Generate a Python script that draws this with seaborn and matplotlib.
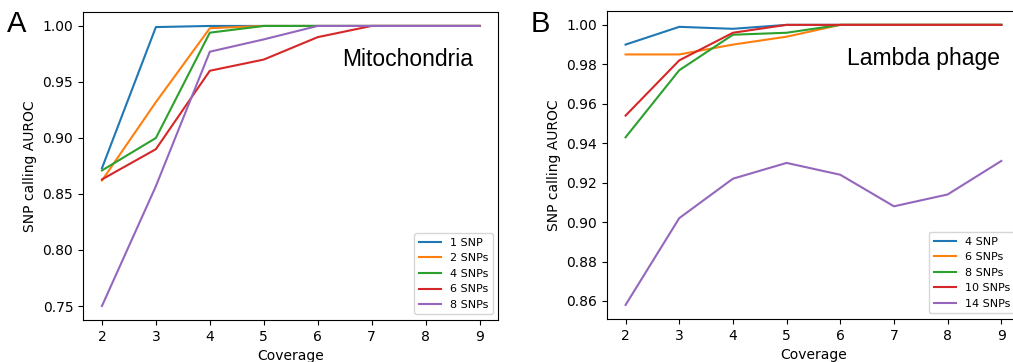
import pandas as pd
import matplotlib
matplotlib.use("Agg")
import matplotlib.pyplot as plt
import seaborn as sns

coverage = [2, 3, 4, 5, 6, 7, 8, 9]

# Panel A: mitochondria
mito_labels = ["1 SNP", "2 SNPs", "4 SNPs", "6 SNPs", "8 SNPs"]
mito_1 = [0.873, 0.999, 1.000, 1.000, 1.000, 1.000, 1.000, 1.000]
mito_2 = [0.862, 0.932, 0.998, 1.000, 1.000, 1.000, 1.000, 1.000]
mito_4 = [0.871, 0.900, 0.994, 1.000, 1.000, 1.000, 1.000, 1.000]
mito_6 = [0.863, 0.890, 0.960, 0.970, 0.990, 1.000, 1.000, 1.000]
mito_8 = [0.750, 0.857, 0.977, 0.988, 1.000, 1.000, 1.000, 1.000]

# Panel B: lambda phage
lam_labels = ["4 SNP", "6 SNPs", "8 SNPs", "10 SNPs", "14 SNPs"]
lam_4 = [0.990, 0.999, 0.998, 1.000, 1.000, 1.000, 1.000, 1.000]
lam_6 = [0.985, 0.985, 0.990, 0.994, 1.000, 1.000, 1.000, 1.000]
lam_8 = [0.943, 0.977, 0.995, 0.996, 1.000, 1.000, 1.000, 1.000]
lam_10 = [0.954, 0.982, 0.996, 1.000, 1.000, 1.000, 1.000, 1.000]
lam_14 = [0.858, 0.902, 0.922, 0.930, 0.924, 0.908, 0.914, 0.931]


def to_long(labels, series):
    rows = []
    for lab, vals in zip(labels, series):
        for c, v in zip(coverage, vals):
            rows.append({"Coverage": c, "AUROC": v, "Set": lab})
    return pd.DataFrame(rows)


def draw_panel(ax, df, labels, title, yticks, title_x):
    sns.lineplot(data=df, x="Coverage", y="AUROC", hue="Set",
                 hue_order=labels, palette="tab10", linewidth=1.5, ax=ax)
    ax.set_xlabel("Coverage", fontsize=10)
    ax.set_ylabel("SNP calling AUROC", fontsize=10)
    ax.set_xticks(coverage)
    ax.set_yticks(yticks)
    ax.tick_params(labelsize=10)
    handles, _ = ax.get_legend_handles_labels()
    ax.legend(handles, labels, loc="lower right", fontsize=8, title=None)
    ax.text(title_x, 0.845, title, transform=ax.transAxes, ha="right",
            va="center", fontsize=16.5, family="Liberation Sans")


fig = plt.figure(figsize=(10.13, 3.62), dpi=100)
ax_a = fig.add_axes([0.082, 0.116, 0.410, 0.851])
ax_b = fig.add_axes([0.599, 0.119, 0.408, 0.851])

draw_panel(ax_a, to_long(mito_labels, [mito_1, mito_2, mito_4, mito_6, mito_8]),
           mito_labels, "Mitochondria", [0.75, 0.80, 0.85, 0.90, 0.95, 1.00], 0.94)
draw_panel(ax_b, to_long(lam_labels, [lam_4, lam_6, lam_8, lam_10, lam_14]),
           lam_labels, "Lambda phage", [0.86, 0.88, 0.90, 0.92, 0.94, 0.96, 0.98, 1.00], 0.952)
ax_b.yaxis.set_major_formatter(matplotlib.ticker.FormatStrFormatter("%.2f"))

fig.text(0.007, 0.935, "A", fontsize=21, family="Liberation Sans", va="center")
fig.text(0.524, 0.935, "B", fontsize=21, family="Liberation Sans", va="center")

fig.savefig("out.png", dpi=100)
